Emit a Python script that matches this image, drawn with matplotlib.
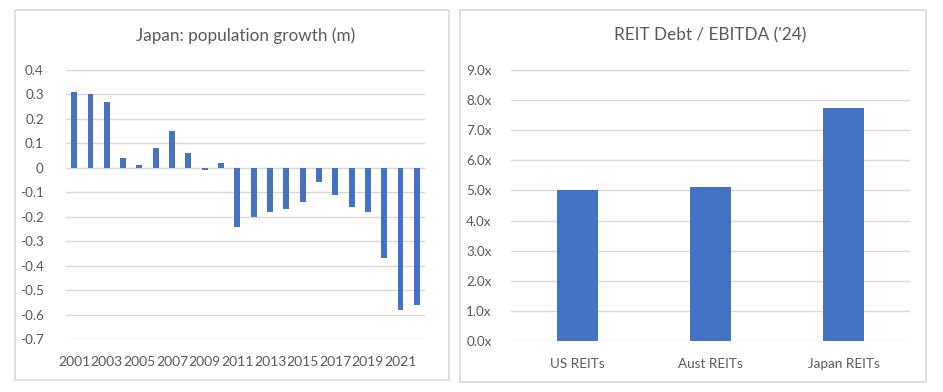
import matplotlib
matplotlib.use("Agg")
import matplotlib.pyplot as plt
from matplotlib.patches import Rectangle
from matplotlib.ticker import FuncFormatter

years = list(range(2001, 2023))
growth = [0.31, 0.30, 0.27, 0.04, 0.01, 0.08, 0.15, 0.06, -0.01, 0.02,
          -0.24, -0.20, -0.18, -0.17, -0.14, -0.06, -0.11, -0.16, -0.18,
          -0.37, -0.58, -0.56]
reit_cats = ["US REITs", "Aust REITs", "Japan REITs"]
reit_vals = [5.0, 5.1, 7.75]

BAR = "#4472C4"
GRID = "#d9d9d9"
TXT = "#595959"
FONT = ["Lato", "DejaVu Sans"]
plt.rcParams["font.family"] = FONT

fig = plt.figure(figsize=(9.43, 3.92), dpi=100)
W, H = 943, 392

def frame(x0, y0, x1, y1):
    fig.patches.append(Rectangle((x0 / W, 1 - y1 / H), (x1 - x0) / W, (y1 - y0) / H,
                                 transform=fig.transFigure, fill=False,
                                 edgecolor=GRID, linewidth=1.2))

frame(15, 10, 449, 380)
frame(460, 10, 926, 382)

def style(ax):
    for s in ax.spines.values():
        s.set_visible(False)
    ax.tick_params(length=0, colors=TXT, labelsize=9.7)
    ax.grid(axis="y", color=GRID, linewidth=1)
    ax.set_axisbelow(True)

# Left chart
ax1 = fig.add_axes([66 / W, 1 - 339 / H, (425 - 66) / W, (339 - 70) / H])
style(ax1)
x = list(range(len(years)))
ax1.bar(x, growth, width=0.36, color=BAR, zorder=3)
ax1.set_xlim(-0.5, len(years) - 0.5)
ax1.set_ylim(-0.7, 0.4)
ax1.set_yticks([0.4, 0.3, 0.2, 0.1, 0, -0.1, -0.2, -0.3, -0.4, -0.5, -0.6, -0.7])
ax1.yaxis.set_major_formatter(FuncFormatter(lambda v, p: "0" if abs(v) < 1e-9 else f"{v:.1f}"))
ax1.set_xticks(x[::2])
ax1.set_xticklabels([str(y) for y in years[::2]])
ax1.tick_params(axis="y", pad=16)
ax1.tick_params(axis="x", pad=12, labelsize=10)
ax1.set_title("Japan: population growth (m)", color=TXT, fontsize=12.3, pad=21)

# Right chart
ax2 = fig.add_axes([511 / W, 1 - 341 / H, (910 - 511) / W, (341 - 70) / H])
style(ax2)
ax2.bar(range(len(reit_cats)), reit_vals, width=0.31, color=BAR, zorder=3)
ax2.set_xlim(-0.5, len(reit_cats) - 0.5)
ax2.set_ylim(0, 9)
ax2.set_yticks(range(0, 10))
ax2.yaxis.set_major_formatter(FuncFormatter(lambda v, p: f"{v:.1f}x"))
ax2.set_xticks(range(len(reit_cats)))
ax2.set_xticklabels(reit_cats)
ax2.tick_params(axis="y", pad=14)
ax2.tick_params(axis="x", pad=12)
ax2.set_title("REIT Debt / EBITDA ('24)", color=TXT, fontsize=12.3, pad=21)

fig.savefig("out.png", dpi=100, facecolor="white")
